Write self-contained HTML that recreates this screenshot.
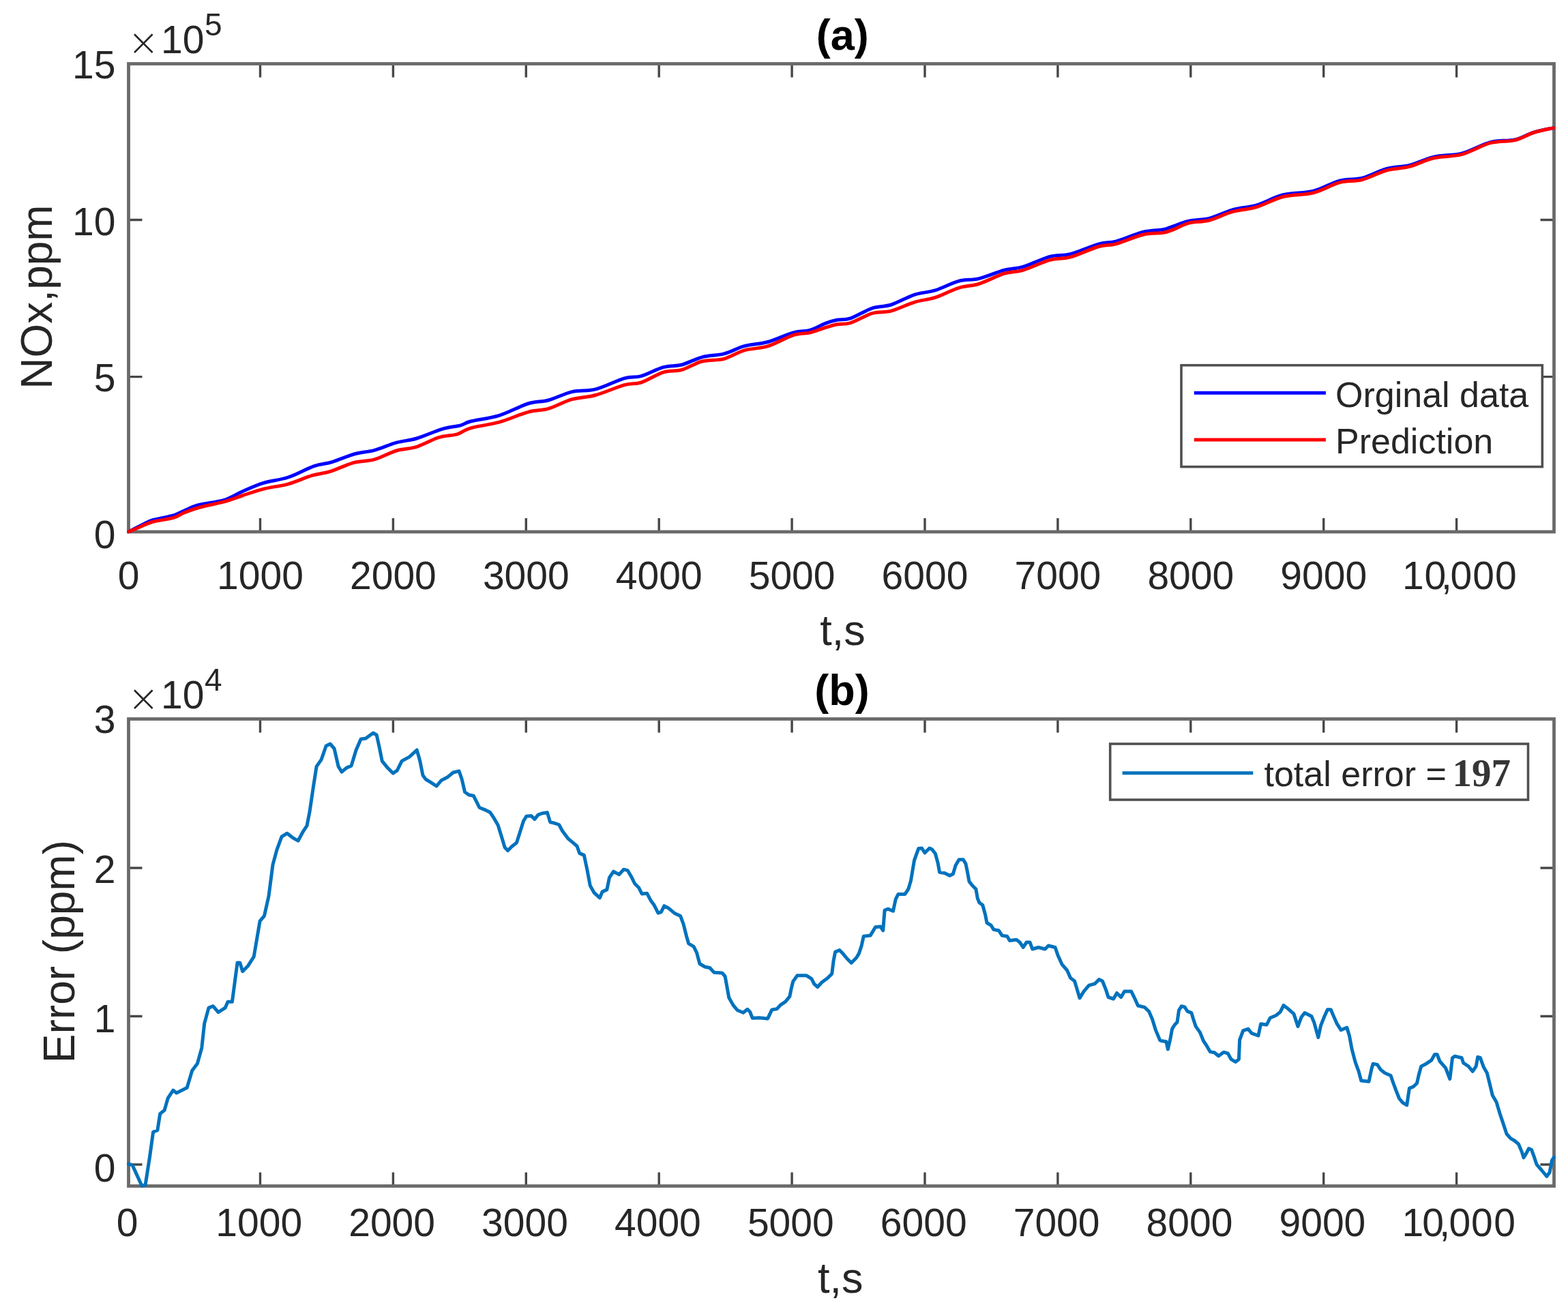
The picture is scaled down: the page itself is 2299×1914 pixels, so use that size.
<!DOCTYPE html>
<html lang="en"><head><meta charset="utf-8"><title>NOx prediction and error</title>
<style>html,body{margin:0;padding:0;background:#fff;}body{width:2299px;height:1914px;overflow:hidden;}svg{display:block;}</style>
</head><body>
<svg width="2299" height="1914" viewBox="0 0 2299 1914">
<rect x="0" y="0" width="2299" height="1914" fill="#fff"/>
<g id="a">
<clipPath id="clip-a"><rect x="186.0" y="91.0" width="2095.0" height="691.5"/></clipPath>
</g>
<path d="M381.5,780.0 V760.0 M381.5,93.5 V113.5 M576.4,780.0 V760.0 M576.4,93.5 V113.5 M771.3,780.0 V760.0 M771.3,93.5 V113.5 M966.2,780.0 V760.0 M966.2,93.5 V113.5 M1161.1,780.0 V760.0 M1161.1,93.5 V113.5 M1356.0,780.0 V760.0 M1356.0,93.5 V113.5 M1550.9,780.0 V760.0 M1550.9,93.5 V113.5 M1745.8,780.0 V760.0 M1745.8,93.5 V113.5 M1940.7,780.0 V760.0 M1940.7,93.5 V113.5 M2135.6,780.0 V760.0 M2135.6,93.5 V113.5 M188.5,552.6 H208.5 M2278.5,552.6 H2258.5 M188.5,322.5 H208.5 M2278.5,322.5 H2258.5" stroke="#474747" stroke-width="3.4" fill="none"/>
<rect x="188.5" y="93.5" width="2090.0" height="686.5" fill="none" stroke="#6a6a6a" stroke-width="4.8"/>
<g clip-path="url(#clip-a)">
<path d="M188.7,779.9 C191.4,778.5 199.2,774.3 205.0,771.5 C210.8,768.7 215.1,765.6 223.3,763.0 C231.5,760.4 246.5,758.3 254.3,756.0 C262.1,753.7 263.8,751.6 270.0,749.0 C276.2,746.4 281.6,743.1 291.4,740.5 C301.2,737.9 318.0,736.6 328.6,733.4 C339.2,730.1 345.5,725.1 355.0,721.0 C364.5,716.9 374.2,712.1 385.5,708.6 C396.8,705.1 410.3,704.1 422.7,700.0 C435.1,695.9 449.1,687.5 459.8,683.8 C470.5,680.1 477.1,680.6 487.0,677.6 C496.9,674.6 509.0,668.9 519.3,666.0 C529.6,663.1 538.7,663.1 549.0,660.3 C559.3,657.5 570.9,652.1 581.2,649.2 C591.5,646.3 599.9,646.3 611.0,643.0 C622.1,639.7 637.3,632.5 648.0,629.3 C658.7,626.1 668.3,625.8 675.3,623.9 C682.3,622.0 680.5,620.4 690.0,618.0 C699.5,615.6 718.0,613.6 732.0,609.3 C746.0,605.0 762.2,595.7 774.2,592.0 C786.2,588.3 793.3,589.9 804.0,587.0 C814.7,584.1 827.1,577.3 838.6,574.6 C850.1,571.9 860.5,574.2 873.3,570.9 C886.1,567.6 904.3,558.0 915.4,554.8 C926.5,551.6 930.6,554.3 940.1,551.6 C949.6,548.9 962.4,541.5 972.3,538.7 C982.2,535.9 990.1,537.5 999.6,535.0 C1009.1,532.5 1019.0,526.5 1029.3,523.8 C1039.6,521.1 1051.2,521.6 1061.5,518.9 C1071.8,516.2 1080.5,510.6 1091.2,507.7 C1101.9,504.8 1113.9,504.8 1125.9,501.5 C1137.9,498.2 1152.7,490.8 1163.0,487.9 C1173.3,485.0 1180.0,486.5 1187.8,484.2 C1195.6,481.9 1203.4,476.8 1210.0,474.3 C1216.6,471.8 1221.0,470.6 1227.2,469.3 C1233.4,468.1 1238.3,469.7 1247.0,466.8 C1255.7,463.9 1269.3,455.2 1279.2,451.9 C1289.1,448.6 1296.2,450.3 1306.5,447.0 C1316.8,443.7 1330.5,435.6 1341.2,432.1 C1351.9,428.6 1360.2,429.2 1370.9,425.9 C1381.6,422.6 1394.8,415.2 1405.5,412.3 C1416.2,409.4 1424.1,411.3 1435.3,408.6 C1446.5,405.9 1461.7,399.1 1472.4,396.2 C1483.1,393.3 1488.6,394.6 1499.7,391.3 C1510.8,388.0 1527.8,379.5 1539.3,376.4 C1550.8,373.3 1557.0,375.8 1569.0,372.7 C1581.0,369.6 1599.9,360.9 1611.1,357.8 C1622.2,354.7 1625.2,357.0 1635.9,354.1 C1646.6,351.2 1664.0,343.4 1675.5,340.5 C1687.0,337.6 1697.8,338.2 1705.2,336.8 C1712.6,335.4 1713.7,333.9 1720.0,331.8 C1726.3,329.7 1734.2,326.1 1743.1,324.1 C1752.0,322.2 1762.9,322.8 1773.5,320.1 C1784.1,317.4 1795.2,311.0 1806.7,307.8 C1818.2,304.5 1830.2,304.5 1842.6,300.8 C1855.0,297.2 1867.5,289.2 1881.3,285.8 C1895.1,282.4 1911.7,283.7 1925.5,280.3 C1939.3,276.8 1952.1,268.3 1964.1,265.1 C1976.1,261.9 1985.8,264.0 1997.3,261.1 C2008.8,258.2 2021.7,250.7 2033.2,247.5 C2044.7,244.4 2054.8,245.2 2066.3,242.3 C2077.8,239.4 2089.4,233.0 2102.3,230.1 C2115.2,227.2 2129.9,228.5 2143.7,224.9 C2157.5,221.3 2172.2,211.9 2185.1,208.6 C2198.0,205.3 2210.4,207.3 2221.0,204.9 C2231.6,202.5 2239.2,197.0 2248.7,194.1 C2258.1,191.2 2272.9,188.7 2277.7,187.6" stroke="#0000ff" stroke-width="5" fill="none" stroke-linejoin="round" stroke-linecap="round"/>
<path d="M188.7,779.9 C191.4,778.8 199.2,775.4 205.0,773.0 C210.8,770.6 215.1,767.8 223.3,765.5 C231.5,763.2 246.5,761.6 254.3,759.4 C262.1,757.1 263.8,754.5 270.0,752.0 C276.2,749.5 281.6,747.2 291.4,744.5 C301.2,741.8 318.0,738.7 328.6,735.8 C339.2,732.9 345.5,730.1 355.0,727.0 C364.5,723.9 374.2,720.2 385.5,717.3 C396.8,714.4 410.7,713.1 422.7,709.8 C434.7,706.5 447.1,700.5 457.4,697.4 C467.7,694.3 474.3,694.5 484.6,691.3 C494.9,688.1 508.6,681.3 519.3,678.4 C530.0,675.5 538.7,676.8 549.0,673.9 C559.3,671.0 570.9,664.1 581.2,661.0 C591.5,657.9 600.7,658.5 611.0,655.3 C621.3,652.1 633.2,644.8 643.1,641.7 C653.0,638.6 662.5,639.1 670.3,636.8 C678.1,634.5 679.7,630.7 690.0,627.8 C700.3,624.9 718.0,623.1 732.0,619.2 C746.0,615.3 762.2,607.6 774.2,604.3 C786.2,601.0 793.3,602.5 804.0,599.4 C814.7,596.3 827.1,589.0 838.6,585.7 C850.1,582.4 860.5,583.0 873.3,579.5 C886.1,576.0 904.3,567.8 915.4,564.7 C926.5,561.6 930.6,564.1 940.1,561.0 C949.6,557.9 962.4,549.2 972.3,546.1 C982.2,543.0 990.1,545.1 999.6,542.4 C1009.1,539.7 1019.0,532.7 1029.3,530.0 C1039.6,527.3 1051.2,529.0 1061.5,526.3 C1071.8,523.6 1080.5,517.0 1091.2,513.9 C1101.9,510.8 1113.9,511.4 1125.9,507.7 C1137.9,504.0 1152.7,494.9 1163.0,491.6 C1173.3,488.3 1180.0,489.8 1187.8,487.9 C1195.6,486.0 1203.4,482.5 1210.0,480.5 C1216.6,478.5 1221.0,476.8 1227.2,475.7 C1233.4,474.5 1238.3,476.3 1247.0,473.6 C1255.7,470.9 1269.3,462.3 1279.2,459.4 C1289.1,456.5 1296.2,458.8 1306.5,456.1 C1316.8,453.3 1330.5,446.4 1341.2,443.1 C1351.9,439.8 1360.2,439.9 1370.9,436.4 C1381.6,433.0 1394.8,425.6 1405.5,422.3 C1416.2,418.9 1424.1,419.8 1435.3,416.3 C1446.5,412.8 1461.7,404.5 1472.4,401.2 C1483.1,397.9 1488.6,399.6 1499.7,396.3 C1510.8,393.0 1527.8,384.6 1539.3,381.4 C1550.8,378.2 1557.0,380.5 1569.0,377.2 C1581.0,373.8 1599.9,364.7 1611.1,361.5 C1622.2,358.3 1625.2,360.7 1635.9,357.8 C1646.6,354.9 1664.0,347.0 1675.5,344.2 C1687.0,341.5 1697.8,342.6 1705.2,341.4 C1712.6,340.1 1713.7,339.2 1720.0,336.8 C1726.3,334.4 1734.2,329.4 1743.1,327.1 C1752.0,324.8 1762.9,325.8 1773.5,323.0 C1784.1,320.2 1795.2,313.8 1806.7,310.6 C1818.2,307.4 1830.2,307.3 1842.6,303.6 C1855.0,299.9 1867.5,291.9 1881.3,288.5 C1895.1,285.1 1911.7,286.4 1925.5,282.9 C1939.3,279.4 1952.1,270.9 1964.1,267.7 C1976.1,264.5 1985.8,266.6 1997.3,263.6 C2008.8,260.6 2021.7,253.0 2033.2,249.8 C2044.7,246.6 2054.8,247.3 2066.3,244.3 C2077.8,241.3 2089.4,234.8 2102.3,231.8 C2115.2,228.8 2129.9,230.0 2143.7,226.3 C2157.5,222.6 2172.2,213.1 2185.1,209.7 C2198.0,206.2 2210.4,208.1 2221.0,205.6 C2231.6,203.1 2239.2,197.5 2248.7,194.5 C2258.1,191.5 2272.9,188.8 2277.7,187.6" stroke="#ff0000" stroke-width="5" fill="none" stroke-linejoin="round" stroke-linecap="round"/>
</g>
<g id="b">
<clipPath id="clip-b"><rect x="186.0" y="1052.0" width="2095.0" height="690.0"/></clipPath>
</g>
<path d="M381.5,1739.5 V1719.5 M381.5,1054.5 V1074.5 M576.4,1739.5 V1719.5 M576.4,1054.5 V1074.5 M771.3,1739.5 V1719.5 M771.3,1054.5 V1074.5 M966.2,1739.5 V1719.5 M966.2,1054.5 V1074.5 M1161.1,1739.5 V1719.5 M1161.1,1054.5 V1074.5 M1356.0,1739.5 V1719.5 M1356.0,1054.5 V1074.5 M1550.9,1739.5 V1719.5 M1550.9,1054.5 V1074.5 M1745.8,1739.5 V1719.5 M1745.8,1054.5 V1074.5 M1940.7,1739.5 V1719.5 M1940.7,1054.5 V1074.5 M2135.6,1739.5 V1719.5 M2135.6,1054.5 V1074.5 M188.5,1708.0 H208.5 M2278.5,1708.0 H2258.5 M188.5,1490.5 H208.5 M2278.5,1490.5 H2258.5 M188.5,1273.0 H208.5 M2278.5,1273.0 H2258.5" stroke="#474747" stroke-width="3.4" fill="none"/>
<rect x="188.5" y="1054.5" width="2090.0" height="685.0" fill="none" stroke="#6a6a6a" stroke-width="4.8"/>
<g clip-path="url(#clip-b)">
<path d="M188.5,1707.3 L194.0,1708.6 L208.0,1739.2 L213.1,1738.0 L219.5,1697.0 L224.6,1660.2 L230.9,1657.7 L234.7,1633.5 L241.1,1628.4 L246.2,1610.6 L253.8,1599.1 L258.9,1603.0 L274.2,1595.3 L281.8,1569.9 L289.5,1559.7 L295.8,1536.8 L299.7,1501.1 L306.0,1478.2 L312.4,1475.7 L320.0,1484.6 L330.2,1478.2 L334.0,1469.3 L340.4,1469.3 L348.0,1412.0 L351.8,1412.0 L355.7,1424.7 L363.3,1417.1 L372.2,1403.1 L381.1,1350.9 L387.5,1343.3 L394.0,1314.3 L400.0,1268.2 L406.0,1246.2 L413.0,1227.2 L421.0,1222.2 L430.0,1229.2 L437.0,1233.2 L444.0,1220.2 L450.0,1211.2 L454.1,1190.1 L459.1,1156.1 L464.1,1124.1 L471.1,1114.1 L478.1,1094.0 L484.1,1091.0 L490.1,1098.0 L496.1,1124.1 L501.1,1132.1 L508.1,1126.1 L515.1,1123.1 L522.1,1100.0 L529.1,1084.0 L536.2,1083.0 L547.2,1075.0 L552.2,1078.0 L556.2,1096.0 L560.2,1116.1 L568.2,1126.1 L576.2,1134.1 L582.2,1130.1 L589.2,1116.1 L600.2,1110.1 L611.2,1100.0 L615.7,1115.8 L620.0,1137.2 L624.3,1143.0 L631.5,1147.3 L640.0,1153.0 L647.2,1144.4 L655.8,1140.1 L664.4,1133.0 L673.0,1130.8 L677.2,1143.0 L681.5,1161.6 L687.3,1165.8 L694.4,1167.3 L698.7,1175.9 L703.0,1184.5 L710.1,1187.3 L718.7,1191.6 L724.4,1200.2 L730.2,1210.2 L735.9,1228.8 L740.2,1243.1 L744.5,1247.4 L750.2,1241.7 L757.4,1236.0 L761.6,1223.1 L767.4,1204.5 L771.7,1197.3 L778.8,1196.6 L783.8,1201.6 L788.8,1195.2 L794.5,1193.0 L802.4,1191.6 L806.7,1205.9 L813.1,1207.3 L819.6,1209.5 L824.6,1218.8 L833.2,1230.2 L841.8,1237.4 L846.0,1241.0 L849.7,1251.4 L856.4,1254.4 L860.8,1275.2 L865.3,1299.0 L871.2,1309.4 L879.4,1316.8 L883.1,1307.9 L889.8,1304.9 L893.5,1287.1 L899.5,1278.2 L907.7,1282.6 L914.4,1275.2 L920.3,1276.7 L926.3,1287.1 L930.7,1296.0 L936.7,1302.0 L941.1,1310.9 L948.6,1310.2 L954.5,1321.3 L959.0,1327.3 L965.0,1339.2 L969.4,1337.7 L973.9,1328.7 L979.8,1331.7 L988.7,1339.2 L997.7,1343.6 L1002.1,1355.5 L1006.6,1373.4 L1009.6,1383.8 L1017.0,1388.2 L1021.5,1397.2 L1025.9,1413.5 L1033.4,1418.0 L1040.8,1419.5 L1046.8,1426.2 L1058.7,1426.9 L1063.1,1432.0 L1065.6,1445.6 L1068.7,1463.0 L1074.9,1474.1 L1081.0,1481.5 L1089.7,1485.2 L1095.9,1480.3 L1099.6,1484.0 L1103.3,1493.3 L1113.2,1492.7 L1125.6,1493.9 L1131.8,1480.9 L1139.2,1479.7 L1144.2,1474.1 L1151.6,1469.1 L1157.8,1461.7 L1160.3,1449.3 L1162.8,1439.4 L1169.0,1430.8 L1182.6,1430.8 L1190.0,1435.7 L1193.7,1443.1 L1198.7,1447.5 L1204.9,1440.7 L1213.5,1434.5 L1219.7,1428.3 L1222.2,1408.5 L1224.7,1396.1 L1230.9,1393.6 L1235.8,1398.6 L1242.0,1406.0 L1248.2,1412.2 L1255.6,1404.8 L1259.3,1398.6 L1263.1,1387.4 L1266.2,1373.3 L1276.1,1372.1 L1283.5,1359.7 L1291.0,1359.1 L1294.7,1364.7 L1297.1,1335.0 L1302.1,1333.1 L1309.5,1336.2 L1313.2,1318.9 L1317.0,1311.4 L1326.9,1311.4 L1331.8,1304.0 L1335.5,1291.6 L1340.5,1261.9 L1346.7,1244.6 L1351.6,1244.0 L1356.0,1250.8 L1362.8,1244.0 L1366.5,1245.8 L1371.4,1252.0 L1375.1,1265.6 L1377.6,1279.2 L1385.0,1280.5 L1392.5,1284.2 L1397.4,1281.7 L1401.1,1269.3 L1406.1,1260.7 L1412.3,1260.7 L1416.0,1266.9 L1418.5,1279.2 L1421.0,1292.9 L1425.9,1299.0 L1430.9,1304.0 L1433.3,1317.6 L1435.8,1323.8 L1440.8,1327.5 L1444.5,1341.1 L1447.0,1353.5 L1453.1,1357.2 L1456.9,1363.4 L1464.3,1364.7 L1469.2,1372.1 L1476.7,1373.3 L1480.4,1379.5 L1490.3,1378.3 L1495.2,1382.0 L1500.2,1389.4 L1505.1,1382.0 L1510.1,1382.0 L1513.7,1392.0 L1522.4,1389.5 L1532.3,1392.0 L1537.2,1387.0 L1547.1,1389.5 L1550.9,1400.7 L1557.0,1414.3 L1564.5,1423.0 L1569.4,1434.1 L1575.6,1439.0 L1579.3,1451.4 L1583.0,1463.8 L1589.2,1453.9 L1596.7,1445.2 L1605.3,1442.8 L1611.5,1436.6 L1616.5,1439.0 L1621.4,1451.4 L1625.1,1462.6 L1632.6,1465.0 L1637.5,1456.4 L1643.7,1462.6 L1648.7,1453.9 L1658.6,1453.9 L1663.5,1463.8 L1668.5,1475.0 L1678.4,1477.4 L1684.6,1483.6 L1689.5,1494.8 L1694.5,1510.9 L1700.7,1525.7 L1702.5,1526.5 L1709.9,1527.7 L1712.4,1538.9 L1716.1,1522.8 L1718.6,1509.1 L1722.3,1503.0 L1726.0,1499.2 L1728.5,1481.9 L1732.2,1475.7 L1737.1,1477.0 L1740.9,1483.1 L1747.0,1485.6 L1749.5,1494.3 L1753.2,1505.4 L1759.4,1514.1 L1764.4,1526.5 L1769.3,1533.9 L1774.3,1542.6 L1780.5,1543.8 L1786.7,1548.8 L1794.1,1543.2 L1800.3,1545.0 L1805.2,1553.7 L1811.4,1557.4 L1816.4,1553.7 L1817.6,1525.2 L1822.6,1511.6 L1830.0,1509.1 L1835.0,1515.3 L1844.9,1519.0 L1848.6,1501.7 L1857.2,1503.0 L1862.2,1493.0 L1870.9,1489.3 L1877.0,1484.4 L1882.0,1474.5 L1886.9,1478.2 L1896.9,1486.9 L1903.0,1505.4 L1908.0,1491.8 L1912.9,1485.6 L1922.9,1490.6 L1926.6,1499.2 L1932.8,1521.5 L1936.5,1504.2 L1941.4,1491.8 L1946.4,1480.7 L1951.3,1480.7 L1955.0,1489.6 L1959.9,1500.8 L1966.1,1510.7 L1974.8,1507.0 L1978.5,1519.3 L1982.2,1539.1 L1987.1,1557.7 L1992.1,1571.3 L1995.8,1585.0 L2007.0,1586.2 L2010.7,1568.9 L2013.1,1560.2 L2019.3,1561.4 L2024.3,1568.9 L2030.5,1573.8 L2039.1,1577.5 L2042.9,1588.7 L2046.6,1598.6 L2051.5,1611.0 L2056.5,1617.1 L2062.7,1620.9 L2066.4,1596.1 L2072.6,1593.6 L2077.5,1588.7 L2080.0,1577.5 L2083.7,1563.9 L2091.1,1560.2 L2098.6,1555.2 L2103.5,1546.6 L2107.2,1546.6 L2111.0,1556.5 L2119.6,1566.4 L2125.8,1582.5 L2129.5,1551.5 L2133.2,1549.1 L2143.1,1551.5 L2145.6,1559.0 L2153.0,1563.9 L2159.2,1571.3 L2164.2,1563.9 L2166.7,1550.3 L2170.4,1551.5 L2175.3,1565.1 L2180.3,1573.8 L2184.0,1588.7 L2188.3,1606.6 L2194.1,1616.6 L2199.1,1633.2 L2204.1,1648.1 L2209.0,1663.0 L2214.8,1669.7 L2220.6,1673.0 L2226.5,1678.0 L2231.4,1689.6 L2233.9,1697.9 L2238.1,1691.2 L2241.4,1684.6 L2245.5,1686.3 L2248.9,1695.4 L2253.0,1707.8 L2258.8,1714.5 L2263.0,1719.5 L2267.9,1725.3 L2272.1,1719.5 L2275.4,1702.0 L2278.5,1697.0" stroke="#0072bd" stroke-width="5" fill="none" stroke-linejoin="round" stroke-linecap="round"/>
</g>
<g font-family='"Liberation Sans", sans-serif' fill="#262626">
<g font-size="57" text-anchor="middle">
<text x="188.5" y="863.5">0</text>
<text x="381.5" y="863.5">1000</text>
<text x="576.4" y="863.5">2000</text>
<text x="771.3" y="863.5">3000</text>
<text x="966.2" y="863.5">4000</text>
<text x="1161.1" y="863.5">5000</text>
<text x="1356.0" y="863.5">6000</text>
<text x="1550.9" y="863.5">7000</text>
<text x="1745.8" y="863.5">8000</text>
<text x="1940.7" y="863.5">9000</text>
<text x="2055.9 2088.4 2113.1 2126.4 2159.3 2192.1" y="863.5" text-anchor="start">10,000</text>
</g>
<g font-size="57" text-anchor="middle">
<text x="186.7" y="1813.0">0</text>
<text x="379.7" y="1813.0">1000</text>
<text x="574.6" y="1813.0">2000</text>
<text x="769.5" y="1813.0">3000</text>
<text x="964.4" y="1813.0">4000</text>
<text x="1159.3" y="1813.0">5000</text>
<text x="1354.2" y="1813.0">6000</text>
<text x="1549.1" y="1813.0">7000</text>
<text x="1744.0" y="1813.0">8000</text>
<text x="1938.9" y="1813.0">9000</text>
<text x="2055.4 2085.2 2110.2 2124.5 2156.9 2190.2" y="1813.0" text-anchor="start">10,000</text>
</g>
<g font-size="57" text-anchor="end">
<text x="169.5" y="115.2">15</text>
<text x="169.5" y="344.6">10</text>
<text x="169.5" y="573.9">5</text>
<text x="169.5" y="804.3">0</text>
<text x="169.5" y="1075.4">3</text>
<text x="169.5" y="1295.0">2</text>
<text x="169.5" y="1513.8">1</text>
<text x="169.5" y="1733.3">0</text>
</g>
<text x="187.3" y="81.4" font-family="'DejaVu Sans', sans-serif" font-weight="200" font-size="55">&#215;</text>
<text x="236" y="77.8" font-size="57">10<tspan x="300" y="51.5" font-size="46">5</tspan></text>
<text x="187.3" y="1042.8" font-family="'DejaVu Sans', sans-serif" font-weight="200" font-size="55">&#215;</text>
<text x="236" y="1039.2" font-size="57">10<tspan x="300" y="1012.9" font-size="46">4</tspan></text>
<text x="1235.6" y="946.2" font-size="63" text-anchor="middle">t,s</text>
<text x="1232.2" y="1896.2" font-size="63" text-anchor="middle">t,s</text>
<text transform="translate(75.9,435.5) rotate(-90)" font-size="64" text-anchor="middle">NOx,ppm</text>
<text transform="translate(108.7,1395.6) rotate(-90)" font-size="64" text-anchor="middle">Error (ppm)</text>
</g>
<g font-family='"Liberation Sans", sans-serif' fill="#000" font-weight="bold" font-size="63" text-anchor="middle">
<text x="1235.3" y="73">(a)</text>
<text x="1234.6" y="1034.4">(b)</text>
</g>
<rect x="1732" y="535.7" width="529.3" height="148.9" fill="#fff" stroke="#505050" stroke-width="3.6"/>
<path d="M1750.8,576.2 H1943.9" stroke="#0000ff" stroke-width="5"/>
<path d="M1750.8,644.9 H1943.9" stroke="#ff0000" stroke-width="5"/>
<g font-family='"Liberation Sans", sans-serif' fill="#262626" font-size="52">
<text x="1958" y="597.2">Orginal data</text>
<text x="1958" y="665.4">Prediction</text>
</g>
<rect x="1627.7" y="1091" width="612.8" height="82" fill="#fff" stroke="#505050" stroke-width="3.6"/>
<path d="M1645.6,1133.8 H1837.3" stroke="#0072bd" stroke-width="5"/>
<text x="1853.5" y="1153.3" font-family='"Liberation Sans", sans-serif' fill="#262626" font-size="52">total error = <tspan font-family='"Liberation Serif", serif' font-weight="bold" font-size="57" fill="#363636" x="2129.5">197</tspan></text>
</svg>
</body></html>
